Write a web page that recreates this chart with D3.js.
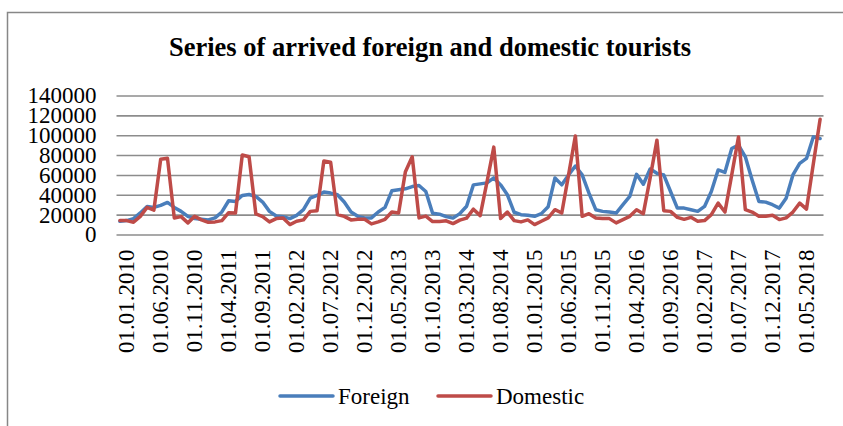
<!DOCTYPE html>
<html>
<head>
<meta charset="utf-8">
<script src="https://cdn.jsdelivr.net/npm/d3@7.9.0/dist/d3.min.js"></script>
<style>
  body { margin: 0; background: #fff; }
  svg { display: block; }
  svg text { font-family: 'Liberation Serif', 'Times New Roman', serif; }
</style>
</head>
<body>
<svg width="843" height="426"></svg>
<script>
const title = 'Series of arrived foreign and domestic tourists';
const seriesNames = ['Foreign', 'Domestic'];
const seriesColors = ['#4a7ebb', '#be4b48'];

// monthly, 01.2010 .. 08.2018
const months = d3.timeMonths(new Date(2010, 0, 1), new Date(2018, 8, 1));

const foreign = [
  13300, 14000, 16000, 21700, 28300, 27300, 29300, 32300, 27300, 23300, 18300, 16000,
  15300, 14700, 16700, 22700, 34000, 33300, 39300, 40300, 38300, 32700, 23300, 18700,
  18000, 16000, 19300, 25000, 36700, 39300, 42700, 41700, 40000, 32700, 22700, 18300,
  16700, 16700, 22700, 27300, 44000, 45000, 46000, 48300, 49300, 43300, 21500, 20500,
  18000, 16500, 21000, 28500, 50000, 51000, 52000, 57000, 50000, 40000, 22400, 20000,
  19300, 18300, 21000, 28000, 57000, 50000, 60000, 69000, 60000, 41600, 25000, 23300,
  22600, 21600, 30000, 38300, 60600, 50600, 66000, 61600, 60000, 43300, 26600, 26600,
  25000, 23300, 28300, 43300, 65000, 62600, 86600, 90000, 78300, 55000, 33300, 32600,
  30000, 26600, 36600, 60000, 71600, 76600, 98300, 96600
];

const domestic = [
  14000, 14000, 12300, 18300, 27300, 24600, 75700, 76700, 16700, 18000, 11700, 18300,
  14700, 12300, 12700, 14000, 22000, 21700, 80000, 78300, 20700, 18000, 12700, 16000,
  16700, 10000, 13300, 14700, 23300, 24000, 74000, 72700, 20000, 18300, 14700, 15300,
  15300, 10700, 12700, 15300, 22700, 21700, 63300, 78300, 16700, 18500, 13000, 13000,
  13800, 11000, 14500, 16500, 25500, 19000, 53000, 88000, 16000, 22600, 14000, 12700,
  14700, 10000, 13300, 16700, 25000, 21600, 60000, 99300, 18300, 21000, 16700, 16000,
  16000, 11700, 15000, 18300, 25000, 21000, 57000, 95000, 24000, 23300, 17300, 15300,
  17300, 13300, 14000, 20000, 31600, 22600, 60000, 98300, 25000, 22600, 18300, 18300,
  19300, 15000, 16700, 22600, 31600, 25600, 71000, 116000
];

const yTicks = [0, 20000, 40000, 60000, 80000, 100000, 120000, 140000];

const svg = d3.select('svg');
const fmt = d3.timeFormat('%d.%m.%Y');

// chart frame
svg.append('rect')
  .attr('x', 7.5).attr('y', 12.5)
  .attr('width', 860).attr('height', 430)
  .attr('fill', 'none')
  .attr('stroke', '#878787')
  .attr('stroke-width', 1.5);

svg.append('text')
  .attr('x', 430).attr('y', 56)
  .attr('text-anchor', 'middle')
  .attr('font-weight', 'bold')
  .attr('font-size', 26.5)
  .text(title);

let plotLeft = 116.5, plotRight = 823.5, plotTop = 95.5, plotBottom = 234.5;

let x = d3.scalePoint()
  .domain(d3.range(months.length))
  .range([plotLeft, plotRight])
  .padding(0.5);

let y = d3.scaleLinear().domain([0, 140000]).range([plotBottom, plotTop]);

// grid + y labels
let yAxis = svg.append('g')
  .attr('transform', `translate(${plotLeft},0)`)
  .call(d3.axisLeft(y).tickValues(yTicks).tickSize(-(plotRight - plotLeft)).tickPadding(20).tickFormat(d3.format('d')))
  .attr('font-family', null)
  .attr('font-size', 23);
yAxis.select('.domain').remove();
yAxis.selectAll('line').attr('stroke', '#8c8c8c').attr('stroke-width', 1.6);
yAxis.selectAll('text').attr('fill', '#000');

// x labels every 5 months
let xAxis = svg.append('g')
  .attr('transform', `translate(0,${plotBottom})`)
  .call(d3.axisBottom(x)
    .tickValues(d3.range(0, months.length, 5))
    .tickSize(0)
    .tickFormat((i) => fmt(months[i])))
  .attr('font-family', null)
  .attr('font-size', 23);
xAxis.select('.domain').remove();
xAxis.selectAll('text')
  .attr('fill', '#000')
  .attr('text-anchor', 'end')
  .attr('transform', 'rotate(-90)')
  .attr('x', -15)
  .attr('y', 0)
  .attr('dy', '0.6em');

let line = d3.line()
  .x((d, i) => x(i))
  .y((d) => y(d));

[foreign, domestic].forEach((values, k) => {
  svg.append('path')
    .datum(values)
    .attr('d', line)
    .attr('fill', 'none')
    .attr('stroke', seriesColors[k])
    .attr('stroke-width', 3.5)
    .attr('stroke-linejoin', 'round')
    .attr('stroke-linecap', 'round');
});

// legend
let legendX = [280, 438];
seriesNames.forEach((name, k) => {
  let g = svg.append('g').attr('transform', `translate(${legendX[k]},396)`);
  g.append('line')
    .attr('x1', 0).attr('x2', 53)
    .attr('stroke', seriesColors[k])
    .attr('stroke-width', 3.5)
    .attr('stroke-linecap', 'round');
  g.append('text')
    .attr('x', 58).attr('y', 8)
    .attr('font-size', 23)
    .text(name);
});
</script>
</body>
</html>
